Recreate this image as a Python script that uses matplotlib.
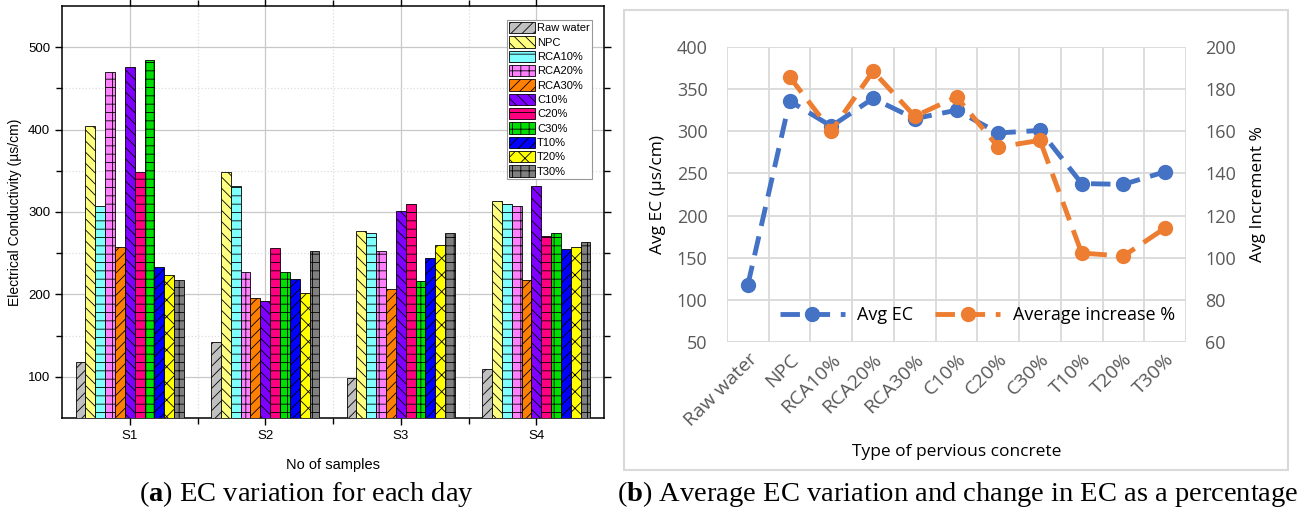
import numpy as np
import matplotlib
matplotlib.use("Agg")
from matplotlib import pyplot as plt
from matplotlib.patches import Rectangle

# ---- data (a): EC per sample day ----
samples = ["S1", "S2", "S3", "S4"]
series_names = ["Raw water", "NPC", "RCA10%", "RCA20%", "RCA30%", "C10%",
                "C20%", "C30%", "T10%", "T20%", "T30%"]
raw_water = [118, 142, 99, 110]
npc = [404, 349, 277, 313]
rca10 = [307, 331, 275, 310]
rca20 = [470, 227, 253, 307]
rca30 = [258, 196, 207, 217]
c10 = [476, 192, 301, 331]
c20 = [349, 256, 310, 271]
c30 = [485, 227, 216, 275]
t10 = [233, 219, 244, 255]
t20 = [224, 202, 260, 257]
t30 = [217, 253, 274, 264]

# ---- data (b): averages ----
concrete_types = ["Raw water", "NPC", "RCA10%", "RCA20%", "RCA30%", "C10%",
                  "C20%", "C30%", "T10%", "T20%", "T30%"]
avg_ec = [118, 336, 306, 339, 315, 325, 298, 301, 238, 237, 252]
avg_increase = [np.nan, 185.8, 160.1, 188.5, 167.1, 176.3, 152.5, 155.7, 102.2, 100.8, 114.1]

bar_colors = ["#c0c0c0", "#ffff80", "#80ffff", "#ff80ff", "#ff8000", "#8000ff",
              "#ff0080", "#00e000", "#0000ff", "#ffff00", "#808080"]
bar_hatches = ["///", "\\\\\\", "--", "++", "///", "\\\\\\",
               "--", "++", "///", "xx", "++"]

plt.rcParams["hatch.linewidth"] = 0.6
plt.rcParams["mathtext.fontset"] = "custom"
plt.rcParams["mathtext.rm"] = "Liberation Serif"
plt.rcParams["mathtext.bf"] = "Liberation Serif:bold"

fig = plt.figure(figsize=(13.14, 5.13), dpi=100)

# ================= panel (a) =================
ax1 = fig.add_axes([0.0472, 0.1852, 0.4125, 0.8031])
all_series = [raw_water, npc, rca10, rca20, rca30, c10, c20, c30, t10, t20, t30]
x = np.arange(1, len(samples) + 1)
n = len(all_series)
w = 0.8 / n
for i, vals in enumerate(all_series):
    ax1.bar(x - 0.4 + w * (i + 0.5), vals, width=w, color=bar_colors[i],
            hatch=bar_hatches[i], edgecolor="black", linewidth=0.6,
            label=series_names[i], zorder=3)

ax1.set_xlim(0.5, 4.5)
ax1.set_ylim(50, 550)
ax1.set_xticks(x)
ax1.set_xticklabels(samples, fontsize=9.5, family="Liberation Sans")
ax1.set_xticks([1.5, 2.5, 3.5], minor=True)
ax1.set_yticks([100, 200, 300, 400, 500])
ax1.set_yticks([150, 250, 350, 450], minor=True)
for lab in ax1.get_yticklabels():
    lab.set_fontsize(9.5)
    lab.set_family("Liberation Sans")
ax1.tick_params(which="both", direction="out", length=5, width=1,
                top=True, right=True)
ax1.tick_params(which="minor", length=4)
ax1.grid(which="major", color="#c8c8c8", linewidth=0.9, zorder=0)
ax1.grid(which="minor", color="#dddddd", linewidth=0.9, linestyle=":", zorder=0)
for s in ax1.spines.values():
    s.set_linewidth(1.1)
ax1.set_ylabel("Electrical Conductivity (\u00b5s/cm)", fontsize=10,
               family="Liberation Sans", labelpad=4)
ax1.set_xlabel("No of samples", fontsize=10.5, family="Liberation Sans", labelpad=12)
leg1 = ax1.legend(loc="upper right", bbox_to_anchor=(0.982, 0.972),
                  prop={"family": "Liberation Sans", "size": 8},
                  handlelength=2.3, handleheight=1.2, labelspacing=0.26,
                  borderpad=0.2, handletextpad=0.2, borderaxespad=0.2,
                  fancybox=False, edgecolor="#999999", framealpha=1)
leg1.get_frame().set_linewidth(0.8)

# ================= panel (b) =================
fig.add_artist(Rectangle((624 / 1314, 1 - 470 / 513), 664 / 1314, 460 / 513,
                         transform=fig.transFigure, fill=False,
                         edgecolor="#d9d9d9", linewidth=1.5))

font_b = "Open Sans"
tick_col = "#595959"
ax2 = fig.add_axes([0.5533, 0.3333, 0.3493, 0.5751])
ax3 = ax2.twinx()
xi = np.arange(len(concrete_types))

l1, = ax2.plot(xi, avg_ec, color="#4472c4", linewidth=3.5,
               linestyle=(0, (4, 2.2)), marker="o", markersize=10,
               label="Avg EC", zorder=4)
l2, = ax3.plot(xi, avg_increase, color="#ed7d31", linewidth=3.5,
               linestyle=(0, (4, 2.2)), marker="o", markersize=10,
               label="Average increase %", zorder=4)

ax2.set_xlim(-0.5, 10.5)
ax2.set_ylim(50, 400)
ax3.set_ylim(60, 200)
ax2.set_yticks(np.arange(50, 401, 50))
ax3.set_yticks(np.arange(60, 201, 20))
ax2.set_xticks(xi)
ax2.set_xticklabels(concrete_types, rotation=45, ha="right",
                    rotation_mode="anchor", fontsize=14, family=font_b,
                    color=tick_col)
ax2.set_xticks(np.arange(-0.5, 10.6, 1), minor=True)
ax2.tick_params(axis="x", which="both", length=0, pad=6)
ax2.tick_params(axis="y", length=0, pad=14, labelsize=13, labelcolor=tick_col)
ax3.tick_params(axis="y", length=0, pad=14, labelsize=13, labelcolor=tick_col)
for lab in ax2.get_yticklabels() + ax3.get_yticklabels():
    lab.set_family(font_b)
ax2.grid(which="major", axis="y", color="#d9d9d9", linewidth=1.3)
ax2.grid(which="minor", axis="x", color="#d9d9d9", linewidth=1.3)
for a in (ax2, ax3):
    for s in a.spines.values():
        s.set_visible(False)
ax2.set_axisbelow(True)

ax2.set_ylabel("Avg EC (\u00b5s/cm)", fontsize=12.5, family=font_b, labelpad=8)
ax3.set_ylabel("Avg Increment %", fontsize=12.5, family=font_b, labelpad=10)
ax2.set_xlabel("Type of pervious concrete", fontsize=12.5, family=font_b,
               labelpad=10)

leg2 = ax2.legend([l1, l2], ["Avg EC", "Average increase %"], loc="lower center",
                  bbox_to_anchor=(0.545, 0.005), ncol=2, frameon=False,
                  prop={"family": font_b, "size": 13}, handlelength=3.6,
                  columnspacing=1.2, handletextpad=0.7)
leg2.set_zorder(5)

# ---- captions ----
fig.text(307 / 1314, 1 - 494 / 513, r"($\mathbf{a}$) EC variation for each day",
         ha="center", va="center", fontsize=20.5, family="Liberation Serif")
fig.text(958 / 1314, 1 - 494 / 513,
         r"($\mathbf{b}$) Average EC variation and change in EC as a percentage",
         ha="center", va="center", fontsize=20.5, family="Liberation Serif")

fig.savefig("out.png", dpi=100)
